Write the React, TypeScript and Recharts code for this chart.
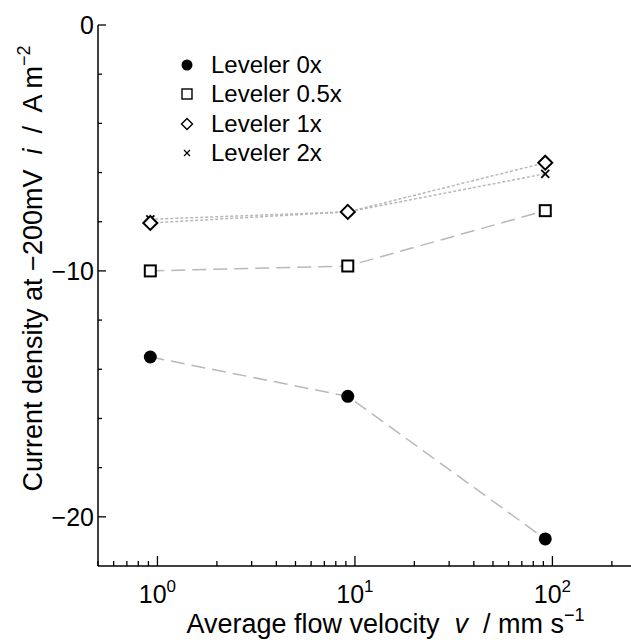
import React from 'react';
import { ComposedChart, Line, XAxis, YAxis, Legend, Label } from 'recharts';

const FONT = '"Liberation Sans", Arial, Helvetica, sans-serif';

// flow velocity, mm/s
const VELOCITY = [0.92, 9.2, 92];

// current density at -200 mV, A/m2
const LEVELER_0X = [-13.5, -15.1, -20.9];
const LEVELER_05X = [-10.0, -9.8, -7.55];
const LEVELER_1X = [-8.05, -7.6, -5.6];
const LEVELER_2X = [-7.9, -7.6, -6.05];

const X_TICKS = [0.5, 0.6, 0.7, 0.8, 0.9, 1, 2, 3, 4, 5, 6, 7, 8, 9, 10, 20, 30, 40, 50, 60, 70, 80, 90, 100, 200];
const X_MAJOR = [1, 10, 100];
const Y_TICKS = [0, -2, -4, -6, -8, -10, -12, -14, -16, -18, -20];
const Y_MAJOR = [0, -10, -20];

const toData = (vals: number[]) => VELOCITY.map((v, k) => ({ v, i: vals[k] }));

const GREY = '#b8b8b8';

const Circle = ({ cx, cy }: any) => <circle cx={cx} cy={cy} r={6.5} fill="#000" />;
const Square = ({ cx, cy }: any) => (
    <rect x={cx - 5.5} y={cy - 5.5} width={11} height={11} fill="#fff" stroke="#000" strokeWidth={2} />
);
const Diamond = ({ cx, cy }: any) => (
    <polygon points={`${cx},${cy - 7} ${cx + 7},${cy} ${cx},${cy + 7} ${cx - 7},${cy}`} fill="#fff" stroke="#000" strokeWidth={2} />
);
const Cross = ({ cx, cy }: any) => (
    <g stroke="#000" strokeWidth={1.8}>
        <line x1={cx - 4} y1={cy - 4} x2={cx + 4} y2={cy + 4} />
        <line x1={cx - 4} y1={cy + 4} x2={cx + 4} y2={cy - 4} />
    </g>
);

// smaller symbols for the legend
const LegendShape = ({ name }: { name: string }) => {
    if (name === 'Leveler 0x') return <circle cx={10} cy={10} r={5.5} fill="#000" />;
    if (name === 'Leveler 0.5x') return <rect x={5} y={5} width={10} height={10} fill="#fff" stroke="#000" strokeWidth={1.4} />;
    if (name === 'Leveler 1x') return <polygon points="10,4.5 15.5,10 10,15.5 4.5,10" fill="#fff" stroke="#000" strokeWidth={1.4} />;
    return (
        <g stroke="#000" strokeWidth={1.3}>
            <line x1={7} y1={7} x2={13} y2={13} />
            <line x1={7} y1={13} x2={13} y2={7} />
        </g>
    );
};

const SERIES = [
    { name: 'Leveler 0x', data: toData(LEVELER_0X), dash: '14 7', Shape: Circle },
    { name: 'Leveler 0.5x', data: toData(LEVELER_05X), dash: '14 7', Shape: Square },
    { name: 'Leveler 2x', data: toData(LEVELER_2X), dash: '3 2', Shape: Cross },
    { name: 'Leveler 1x', data: toData(LEVELER_1X), dash: '3 2', Shape: Diamond },
];
const LEGEND_ORDER = ['Leveler 0x', 'Leveler 0.5x', 'Leveler 1x', 'Leveler 2x'];

const BottomTick = ({ x, y, payload }: any) => {
    const major = X_MAJOR.includes(payload.value);
    return (
        <g>
            <line x1={x} x2={x} y1={y} y2={y - (major ? 10 : 5)} stroke="#000" strokeWidth={1.3} />
            {major && (
                <text x={x} y={y + 37} textAnchor="middle" fontSize={25} fontFamily={FONT} fill="#000">
                    10<tspan dy={-11} fontSize={17}>{Math.round(Math.log10(payload.value))}</tspan>
                </text>
            )}
        </g>
    );
};

const TopTick = ({ x, y, payload }: any) => {
    const major = X_MAJOR.includes(payload.value);
    return <line x1={x} x2={x} y1={y} y2={y + (major ? 10 : 5)} stroke="#000" strokeWidth={1.3} />;
};

const LeftTick = ({ x, y, payload }: any) => {
    const major = Y_MAJOR.includes(payload.value);
    return (
        <g>
            <line x1={x} x2={x + (major ? 8 : 4)} y1={y} y2={y} stroke="#000" strokeWidth={1.3} />
            {major && (
                <text x={x - 4} y={y} dy="0.36em" textAnchor="end" fontSize={25} fontFamily={FONT} fill="#000">
                    {payload.value === 0 ? '0' : `\u2212${Math.abs(payload.value)}`}
                </text>
            )}
        </g>
    );
};

const XTitle = ({ viewBox }: any) => {
    const cx = viewBox.x + viewBox.width / 2;
    return (
        <text x={cx + 21} y={633} textAnchor="middle" fontSize={27} fontFamily={FONT} fill="#000" style={{ whiteSpace: 'pre' }}>
            {'Average flow velocity  '}<tspan fontStyle="italic">v</tspan>{'  / mm s'}
            <tspan dy={-12} fontSize={18}>{'\u22121'}</tspan>
        </text>
    );
};

const YTitle = ({ viewBox }: any) => {
    const cy = viewBox.y + viewBox.height / 2;
    return (
        <text x={0} y={0} transform={`translate(42, ${cy - 27}) rotate(-90)`} textAnchor="middle" fontSize={27}
            fontFamily={FONT} fill="#000" style={{ whiteSpace: 'pre' }}>
            {'Current density at \u2212200mV  '}<tspan fontStyle="italic">i</tspan>{'  /  A m'}
            <tspan dy={-12} fontSize={18}>{'\u22122'}</tspan>
        </text>
    );
};

const LegendBox = () => (
    <div style={{ fontFamily: FONT, fontSize: 24, color: '#000' }}>
        {LEGEND_ORDER.map(n => (
            <div key={n} style={{ display: 'flex', alignItems: 'center', height: 29.5 }}>
                <svg width={20} height={20}>
                    <LegendShape name={n} />
                </svg>
                <span style={{ marginLeft: 14 }}>{n}</span>
            </div>
        ))}
    </div>
);

export default function App() {
    return (
        <div style={{ position: 'absolute', left: 0, top: 0, background: '#fff' }}>
            <ComposedChart width={631} height={640} margin={{ top: 25, right: 0, bottom: 0, left: 0 }}>
                <XAxis dataKey="v" type="number" scale="log" domain={[0.5, 250]} allowDataOverflow ticks={X_TICKS}
                    interval={0} tickSize={0} tickMargin={0} tickLine={false} tick={<BottomTick />} height={74}
                    axisLine={{ stroke: '#000', strokeWidth: 1.5 }}>
                    <Label content={<XTitle />} />
                </XAxis>
                <XAxis xAxisId="top" orientation="top" dataKey="v" type="number" scale="log" domain={[0.5, 250]}
                    allowDataOverflow ticks={X_TICKS} interval={0} tickSize={0} tickMargin={0} tickLine={false}
                    tick={<TopTick />} height={0} axisLine={{ stroke: '#000', strokeWidth: 1.5 }} />
                <YAxis type="number" domain={[-22, 0]} allowDataOverflow ticks={Y_TICKS} interval={0} tickSize={0}
                    tickMargin={0} tickLine={false} tick={<LeftTick />} width={98}
                    axisLine={{ stroke: '#000', strokeWidth: 1.5 }}>
                    <Label content={<YTitle />} />
                </YAxis>
                <Legend content={<LegendBox />} layout="vertical" align="center" verticalAlign="middle"
                    wrapperStyle={{ left: 177, top: 50, width: 220 }} />
                {SERIES.map(s => (
                    <Line key={s.name} data={s.data} dataKey="i" name={s.name} stroke={GREY} strokeWidth={1.5}
                        strokeDasharray={s.dash} dot={<s.Shape />} activeDot={false} isAnimationActive={false} />
                ))}
            </ComposedChart>
        </div>
    );
}
